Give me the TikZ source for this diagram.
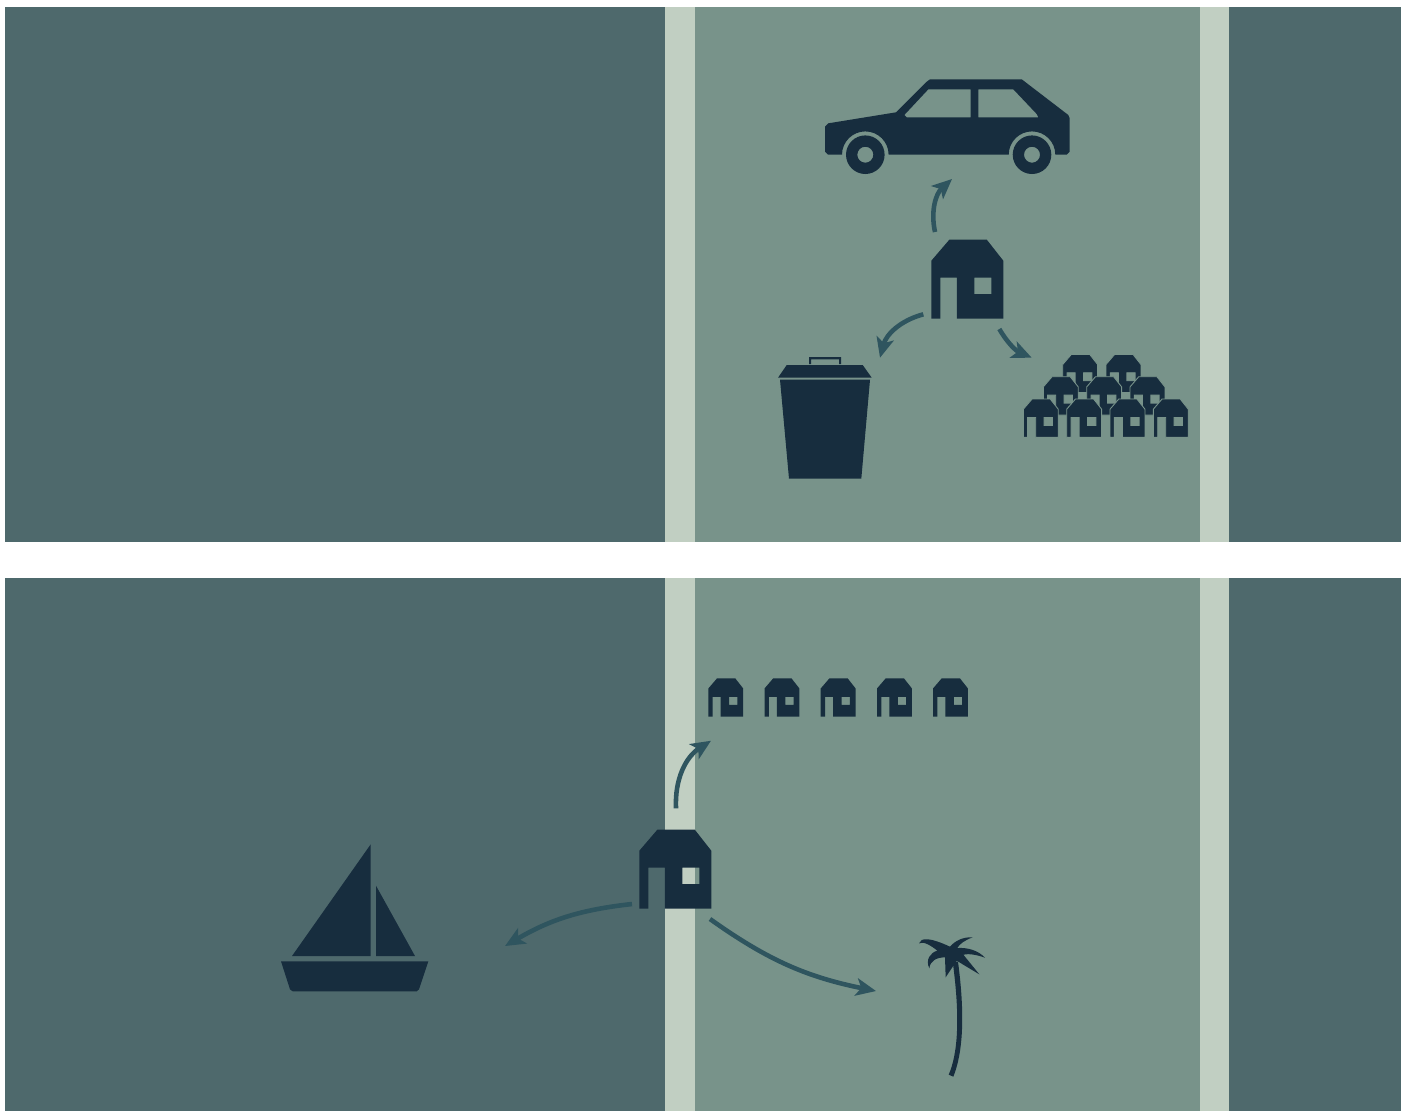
\documentclass[tikz,border=0pt]{standalone}
\usepackage{xcolor}
\usetikzlibrary{arrows.meta}
\definecolor{waterdark}{HTML}{4E696C}
\definecolor{landmid}{HTML}{78938A}
\definecolor{shorepale}{HTML}{C1CFC2}
\definecolor{icondark}{HTML}{172D3E}
\definecolor{arrowteal}{HTML}{2F555F}
\tikzset{
  flowarr/.style = {-{Stealth[length=2.0mm,width=1.75mm,inset=0.5mm]},line width=1.3pt,arrowteal},
  iconfill/.style = {fill=icondark,draw=none},
  smallhouse/.style = {scale=0.485},
  stackhouse/.style = {scale=0.485,draw=landmid,line width=0.25pt},
  house/.pic = {
    \path[fill=icondark,even odd rule,pic actions]
      (0,21) -- (18,0) -- (55.5,0) -- (72,21) -- (72,79) -- (25.5,79) -- (25.5,38)
      -- (9,38) -- (9,79) -- (0,79) -- cycle
      (43,38) rectangle (60,54.5);
  }
}
\begin{document}
\begin{tikzpicture}[x=0.01cm,y=-0.01cm]
  \useasboundingbox (0,0) rectangle (1410,1111);
  \fill[white] (0,0) rectangle (1410,1111);
  \foreach \ytop/\ybot in {7/542,578/1111}{
    \fill[waterdark] (5,\ytop) rectangle (1401,\ybot);
    \fill[shorepale] (665,\ytop) rectangle (1229,\ybot);
    \fill[landmid] (695,\ytop) rectangle (1200,\ybot);
  }

  % car
  \fill[iconfill,even odd rule]
    (825,151.7) -- (825,126.7) -- (828.3,123.3) -- (896,112.3) -- (926.7,81.7) -- (930,79.3)
    -- (1021.7,79.3) -- (1068.3,115) -- (1069.7,118.3) -- (1069.7,151.7) -- (1066.7,154.7)
    -- (1055.3,154.7) arc[start angle=0,end angle=-180,radius=23.3]
    -- (888.6,154.7) arc[start angle=0,end angle=-180,radius=23.3]
    -- (828,154.7) -- cycle
    (904.3,115) -- (928.3,89.3) -- (970.7,89.3) -- (970.7,117.3) -- (906.7,117.3) -- cycle
    (978.3,89.3) -- (1013.3,89.3) -- (1036.7,114) -- (1038.3,117.3) -- (978.3,117.3) -- cycle;
  \foreach \wx in {865.3,1032}{
    \fill[iconfill,even odd rule] (\wx,154.7) circle[radius=19.3] (\wx,154.7) circle[radius=8];
  }

  % bin
  \fill[iconfill] (786.7,365) -- (862.7,365) -- (871.7,377.7) -- (778,377.7) -- cycle;
  \fill[iconfill] (780,379.7) -- (870,379.7) -- (861.3,478.7) -- (789,478.7) -- cycle;
  \fill[iconfill] (809,357) -- (841,357) -- (841,364) -- (839,364) -- (839,359.3) -- (811,359.3)
    -- (811,364) -- (809,364) -- cycle;

  % houses, top panel
  \pic at (931.3,239.7) {house};
  \foreach \hx in {1062.7,1106}{
    \pic[stackhouse] at (\hx,354.3) {house};
  }
  \foreach \hx in {1043.3,1086.7,1130}{
    \pic[stackhouse] at (\hx,376.7) {house};
  }
  \foreach \hx in {1023.3,1066.7,1110,1153.3}{
    \pic[stackhouse] at (\hx,399) {house};
  }

  % houses, bottom panel
  \pic at (639.3,829.7) {house};
  \foreach \hx in {708.3,764.5,820.7,877,933}{
    \pic[smallhouse] at (\hx,678.3) {house};
  }

  % boat
  \fill[iconfill] (370.7,844.3) -- (370.7,956) -- (292,956) -- cycle;
  \fill[iconfill] (376,885.7) -- (415,956) -- (376,956) -- cycle;
  \fill[iconfill] (281,961.3) -- (428.3,961.3) -- (419,989.3) -- (416.7,991.3) -- (292.7,991.3)
    -- (290,989.3) -- cycle;

  % palm
  \begin{scope}[shift={(900,920)},scale=0.3333]
    \fill[iconfill] (146,464) .. controls (172,405) and (182,300) .. (158,125)
      -- (174,125) .. controls (196,290) and (188,400) .. (160,470) -- cycle;
    \fill[iconfill] (57,70) .. controls (62,52) and (90,52) .. (150,80)
      .. controls (165,62) and (190,50) .. (218,52)
      .. controls (195,60) and (178,72) .. (172,84)
      .. controls (205,82) and (235,92) .. (255,113)
      .. controls (230,104) and (205,100) .. (190,104)
      -- (238,163) -- (170,122) -- (137,172) -- (135,112)
      .. controls (110,112) and (90,122) .. (88,145)
      .. controls (76,120) and (90,98) .. (112,92)
      .. controls (95,78) and (70,62) .. (57,70) -- cycle;
  \end{scope}

  % connectors
  \coordinate (carfrom) at (935,232);
  \coordinate (carto) at (952,179);
  \coordinate (binfrom) at (923.3,314.3);
  \coordinate (binto) at (880,357.7);
  \coordinate (stackfrom) at (999.3,329);
  \coordinate (stackto) at (1031.7,357.7);
  \coordinate (rowfrom) at (676,808.3);
  \coordinate (rowto) at (711,740.7);
  \coordinate (boatfrom) at (632,904);
  \coordinate (boatto) at (505,946);
  \coordinate (palmfrom) at (710,919);
  \coordinate (palmto) at (876,991);
  \draw[flowarr] (carfrom) to[bend left=30] (carto);
  \draw[flowarr] (binfrom) to[bend right=30] (binto);
  \draw[flowarr] (stackfrom) to[bend right=18] (stackto);
  \draw[flowarr] (rowfrom) to[bend left=30] (rowto);
  \draw[flowarr] (boatfrom) to[bend right=12] (boatto);
  \draw[flowarr] (palmfrom) to[bend right=12] (palmto);
\end{tikzpicture}
\end{document}
